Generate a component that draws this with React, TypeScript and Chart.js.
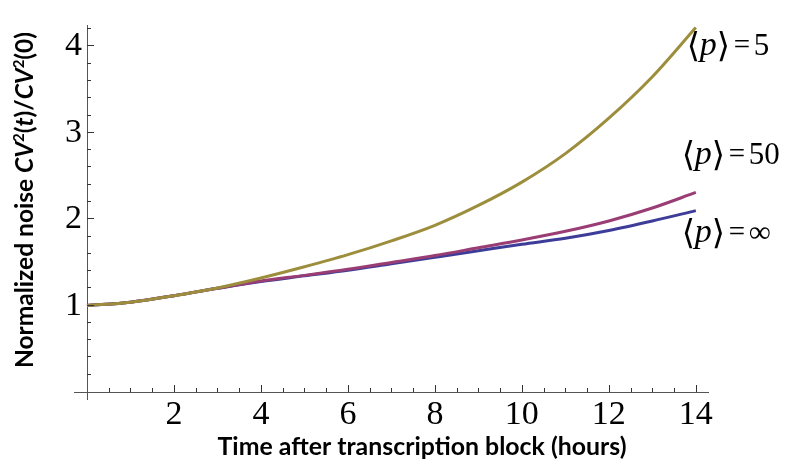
import React, { useEffect, useRef } from "react";
import { Chart, registerables } from "chart.js";

Chart.register(...registerables);

// ---- data ----
const hours = [0, 1, 2, 3, 4, 5, 6, 7, 8, 9, 10, 11, 12, 13, 14];
const noiseP5 = [1.0, 1.04, 1.115, 1.205, 1.32, 1.45, 1.59, 1.75, 1.93, 2.16, 2.43, 2.76, 3.17, 3.65, 4.22];
const noiseP50 = [1.0, 1.04, 1.115, 1.2, 1.285, 1.35, 1.42, 1.5, 1.58, 1.67, 1.76, 1.86, 1.98, 2.13, 2.31];
const noiseInf = [1.0, 1.04, 1.115, 1.2, 1.28, 1.345, 1.41, 1.485, 1.56, 1.635, 1.71, 1.78, 1.87, 1.98, 2.1];
const seriesValues = ["5", "50", "\u221E"];
const xMajorTicks = [2, 4, 6, 8, 10, 12, 14];
const yMajorTicks = [1, 2, 3, 4];
const xMinorStep = 0.5;
const yMinorStep = 0.2;
const xTitle = "Time after transcription block (hours)";

const COLORS = ["#9c8e3c", "#993d74", "#3d3d99"];
const SERIF = '"Liberation Serif", "Times New Roman", serif';
const SANS = 'Lato, "Open Sans", sans-serif';

type Run = { text: string; font: string; dy?: number };

function runsWidth(ctx: CanvasRenderingContext2D, runs: Run[]) {
  let total = 0;
  const widths = runs.map((r) => {
    ctx.font = r.font;
    const w = ctx.measureText(r.text).width;
    total += w;
    return w;
  });
  return { total, widths };
}

function drawRuns(ctx: CanvasRenderingContext2D, runs: Run[], x: number, y: number) {
  const { total, widths } = runsWidth(ctx, runs);
  let cx = x - total / 2;
  runs.forEach((r, i) => {
    ctx.font = r.font;
    ctx.fillText(r.text, cx, y + (r.dy || 0));
    cx += widths[i];
  });
}

function yTitleRuns(size: number): Run[] {
  const b = `bold ${size}px ${SANS}`;
  const bi = `italic bold ${size}px ${SANS}`;
  const sup = `bold ${Math.round(size * 0.62)}px ${SANS}`;
  const up = -size * 0.38;
  return [
    { text: "Normalized noise ", font: b },
    { text: "CV", font: bi },
    { text: "2", font: sup, dy: up },
    { text: "(", font: b },
    { text: "t", font: bi },
    { text: ")/", font: b },
    { text: "CV", font: bi },
    { text: "2", font: sup, dy: up },
    { text: "(0)", font: b },
  ];
}

const decorPlugin = {
  id: "decor",
  afterDatasetsDraw(chart: any) {
    const ctx: CanvasRenderingContext2D = chart.ctx;
    const xs = chart.scales.x;
    const ys = chart.scales.y;
    const x0 = xs.getPixelForValue(0);
    const y0 = ys.getPixelForValue(0);
    ctx.save();
    // axis overhang
    ctx.strokeStyle = "#555";
    ctx.lineWidth = 1;
    ctx.beginPath();
    ctx.moveTo(x0 - 13, y0 + 0.5);
    ctx.lineTo(x0, y0 + 0.5);
    ctx.moveTo(x0 + 0.5, y0);
    ctx.lineTo(x0 + 0.5, y0 + 8);
    ctx.stroke();
    // ticks (inward)
    ctx.strokeStyle = "#333";
    ctx.beginPath();
    const xMax = xMajorTicks[xMajorTicks.length - 1];
    for (let k = 1; k * xMinorStep <= xMax + 1e-9; k++) {
      const v = k * xMinorStep;
      const major = xMajorTicks.some((m) => Math.abs(m - v) < 1e-9);
      const px = Math.round(xs.getPixelForValue(v)) + 0.5;
      ctx.moveTo(px, y0);
      ctx.lineTo(px, y0 - (major ? 7 : 4));
    }
    for (let k = 1; k * yMinorStep <= ys.max + 1e-9; k++) {
      const v = k * yMinorStep;
      const major = yMajorTicks.some((m) => Math.abs(m - v) < 1e-9);
      const py = Math.round(ys.getPixelForValue(v)) - 0.5;
      ctx.moveTo(x0, py);
      ctx.lineTo(x0 + (major ? 7 : 4), py);
    }
    ctx.stroke();

    ctx.fillStyle = "#000";
    ctx.textBaseline = "alphabetic";
    ctx.textAlign = "left";

    // x title, sized to the reference width
    ctx.font = `bold 20px ${SANS}`;
    const xw = ctx.measureText(xTitle).width;
    const xSize = (20 * 409) / xw;
    drawRuns(ctx, [{ text: xTitle, font: `bold ${xSize}px ${SANS}` }], 422, 455);

    // y title (rotated), sized to reference length
    const w20 = runsWidth(ctx, yTitleRuns(20)).total;
    const ySize = (20 * 336) / w20;
    ctx.save();
    ctx.translate(33, 200);
    ctx.rotate(-Math.PI / 2);
    drawRuns(ctx, yTitleRuns(ySize), 0, 0);
    ctx.restore();

    // series labels: <p> = value, placed next to each curve's end
    const lastX = xs.getPixelForValue(hours[hours.length - 1]);
    const series = [noiseP5, noiseP50, noiseInf];
    const anchors = [[-9, 27.5], [-14, -28], [-14, 31.5]];
    const pieceX = [0, 13, 30, 47, 67];
    series.forEach((s, i) => {
      const py = ys.getPixelForValue(s[s.length - 1]) + anchors[i][1];
      const px = lastX + anchors[i][0];
      const pieces: Run[] = [
        { text: "\u27E8", font: `34px "DejaVu Serif", ${SERIF}`, dy: 2 },
        { text: "p", font: `italic 34px "Liberation Serif"` },
        { text: "\u27E9", font: `34px "DejaVu Serif", ${SERIF}`, dy: 2 },
        { text: "=", font: `29px "Liberation Serif"`, dy: -1 },
        { text: seriesValues[i], font: `31px "Liberation Serif"` },
      ];
      pieces.forEach((p, k) => {
        ctx.font = p.font;
        ctx.fillText(p.text, px + pieceX[k], py + (p.dy || 0));
      });
    });
    ctx.restore();
  },
};

export default function App() {
  const ref = useRef<HTMLCanvasElement | null>(null);
  useEffect(() => {
    document.body.style.margin = "0";
    const canvas = ref.current!;
    const mk = (data: number[]) => hours.map((h, i) => ({ x: h, y: data[i] }));
    const chart = new Chart(canvas, {
      type: "line",
      data: {
        datasets: [
          { label: "p5", data: mk(noiseP5), borderColor: COLORS[0] },
          { label: "p50", data: mk(noiseP50), borderColor: COLORS[1] },
          { label: "pinf", data: mk(noiseInf), borderColor: COLORS[2] },
        ].map((d) => ({
          ...d,
          borderWidth: 3,
          pointRadius: 0,
          fill: false,
          cubicInterpolationMode: "monotone" as const,
          clip: false as any,
        })),
      },
      options: {
        animation: false,
        responsive: false,
        maintainAspectRatio: false,
        layout: { padding: { top: 13, right: 77, left: 0, bottom: 0 } },
        plugins: { legend: { display: false }, tooltip: { enabled: false }, title: { display: false } },
        scales: {
          x: {
            type: "linear",
            min: 0,
            max: 14.28,
            grid: { display: false, drawTicks: false },
            border: { display: true, color: "#555", width: 1 },
            afterBuildTicks: (s: any) => {
              s.ticks = xMajorTicks.map((v) => ({ value: v }));
            },
            afterFit: (s: any) => {
              s.height = 76;
            },
            ticks: {
              color: "#000",
              padding: 3,
              maxRotation: 0,
              autoSkip: false,
              font: { family: SERIF, size: 34 },
              callback: (v: any) => String(v),
            },
          },
          y: {
            type: "linear",
            min: 0,
            max: 4.244,
            grid: { display: false, drawTicks: false },
            border: { display: true, color: "#555", width: 1 },
            afterBuildTicks: (s: any) => {
              s.ticks = yMajorTicks.map((v) => ({ value: v }));
            },
            afterFit: (s: any) => {
              s.width = 87;
            },
            ticks: {
              color: "#000",
              padding: 5,
              autoSkip: false,
              font: { family: SERIF, size: 34 },
              callback: (v: any) => String(v),
            },
          },
        },
      },
      plugins: [decorPlugin],
    } as any);
    return () => chart.destroy();
  }, []);
  return <canvas ref={ref} width={785} height={468} style={{ display: "block" }} />;
}
